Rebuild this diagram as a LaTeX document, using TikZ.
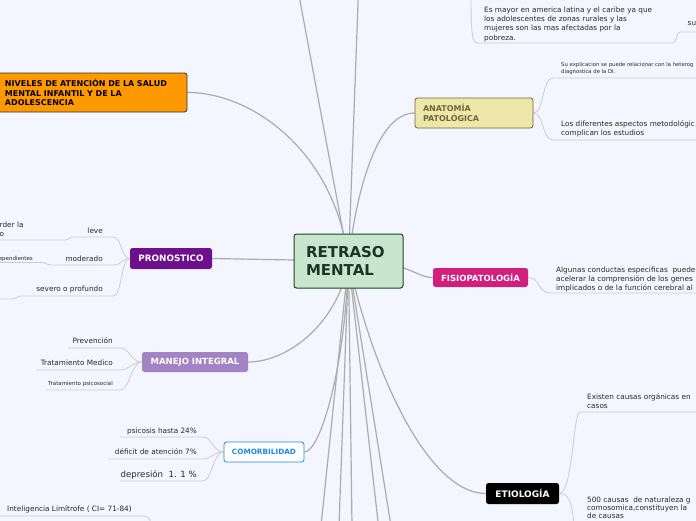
\documentclass[tikz,border=0pt]{standalone}
\usepackage{fontspec}
\setmainfont{DejaVu Sans}
\usetikzlibrary{backgrounds}
\definecolor{bg}{RGB}{243,246,254}
\definecolor{mainline}{RGB}{172,172,172}
\definecolor{leafline}{RGB}{204,204,210}
\definecolor{cfill}{RGB}{200,230,205}
\definecolor{cdraw}{RGB}{40,62,46}
\definecolor{ctext}{RGB}{28,52,34}
\definecolor{orangef}{RGB}{255,153,0}
\definecolor{purplef}{RGB}{110,16,140}
\definecolor{lavf}{RGB}{162,132,196}
\definecolor{blueb}{RGB}{30,136,229}
\definecolor{khakif}{RGB}{238,232,168}
\definecolor{olivet}{RGB}{112,100,60}
\definecolor{magf}{RGB}{210,30,125}
\definecolor{txt}{RGB}{40,40,40}
\tikzset{
 box/.style={rounded corners=2.5pt, inner sep=0pt, font=\bfseries\fontsize{8.5}{10}\selectfont},
 leaf/.style={inner sep=0pt, text=txt, font=\fontsize{7.3}{9.2}\selectfont, align=left},
 tinyleaf/.style={inner sep=0pt, text=txt, font=\fontsize{5.5}{7}\selectfont, align=left},
 conn/.style={draw=mainline, line width=1.2pt},
 lconn/.style={draw=leafline, line width=0.8pt},
}
\begin{document}
\begin{tikzpicture}[x=1pt,y=-1pt]
\useasboundingbox (0,0) rectangle (696,520);

% ---------- main nodes ----------
\node[box, fill=cfill, draw=cdraw, line width=1pt, minimum width=109pt, minimum height=54pt,
      text width=85pt, align=left, text=ctext, font=\bfseries\fontsize{15}{18.5}\selectfont] (c) at (348.5,261) {RETRASO\\MENTAL};
\node[box, fill=orangef, draw=black!80, line width=0.8pt, minimum width=190pt, minimum height=39pt,
      text width=174pt, align=left, font=\bfseries\fontsize{8}{9.6}\selectfont] (niv) at (92,92.5)
      {NIVELES DE ATENCIÓN DE LA SALUD\\MENTAL INFANTIL Y DE LA\\ADOLESCENCIA};
\node[box, fill=purplef, text=white, minimum width=82pt, minimum height=21pt, font=\bfseries\fontsize{8.8}{10}\selectfont] (pron) at (171,258.5) {PRONOSTICO};
\node[box, fill=lavf, text=white, minimum width=106pt, minimum height=20pt] (man) at (195,362) {MANEJO INTEGRAL};
\node[box, fill=white, draw=blueb, line width=0.8pt, text=blueb, minimum width=80pt, minimum height=20pt,
      font=\bfseries\fontsize{7.3}{9}\selectfont] (com) at (264,452) {COMORBILIDAD};
\node[box, fill=khakif, draw=olivet, line width=0.8pt, text=olivet, minimum width=118pt, minimum height=30pt,
      text width=102pt, align=left, font=\bfseries\fontsize{8}{9.8}\selectfont] (anat) at (474,113) {ANATOMÍA\\PATOLÓGICA};
\node[box, fill=magf, text=white, minimum width=95pt, minimum height=19pt] (fis) at (480.5,277.5) {FISIOPATOLOGÍA};
\node[box, fill=black, text=white, minimum width=73pt, minimum height=21pt, font=\bfseries\fontsize{9}{10}\selectfont] (eti) at (522.5,493.5) {ETIOLOGÍA};

% ---------- leaf texts ----------
% pronostico
\node[leaf, anchor=base east] (leve) at (103,233) {leve};
\node[leaf, anchor=base east] (mod) at (103,261.5) {moderado};
\node[leaf, anchor=base east] (sev) at (103,291.5) {severo o profundo};
\node[leaf, anchor=north west] (leveA) at (-0.5,221.5) {rder la\\o};
\node[tinyleaf, anchor=base east] (modA) at (33,260) {ependientes};
% manejo
\node[leaf, anchor=base east] (prev) at (113,343.5) {Prevención};
\node[leaf, anchor=base east] (tmed) at (113,365.5) {Tratamiento Medico};
\node[tinyleaf, anchor=base east] (tpsi) at (113,385) {Tratamiento psicosocial};
% comorbilidad
\node[leaf, anchor=base east] (psi) at (197,433.5) {psicosis hasta 24\%};
\node[leaf, anchor=base east] (def) at (197,454.5) {déficit de atención 7\%};
\node[leaf, anchor=base east, font=\fontsize{8.6}{10}\selectfont] (dep) at (197,477.5) {depresión\ \ 1. 1 \%};
\node[leaf, anchor=base west] (intel) at (7,511.5) {Inteligencia Limítrofe ( CI= 71-84)};
% top right
\node[leaf, anchor=north west, font=\fontsize{7.3}{9.3}\selectfont] (may) at (484,6.5)
  {Es mayor en america latina y el caribe ya que\\los adolescentes de zonas rurales y las\\mujeres son las mas afectadas por la\\pobreza.};
\node[leaf, anchor=base west] (su) at (687.5,25.5) {su};
% anatomia
\node[tinyleaf, anchor=north west, font=\fontsize{5.3}{7}\selectfont] (expl) at (561,62.5) {Su explicacion se puede relacionar con la heterog\\diagnostica de la DI.};
\node[leaf, anchor=north west] (asp) at (561,120.5) {Los diferentes aspectos metodológic\\complican los estudios};
% fisiopatologia
\node[leaf, anchor=north west, font=\fontsize{7.3}{9}\selectfont] (cond) at (556,266.5)
  {Algunas conductas especificas\ \ puede\\acelerar la comprensión de los genes\\implicados o de la función cerebral al};
% etiologia
\node[leaf, anchor=north west] (org) at (587,393) {Existen causas orgánicas en\\casos};
\node[leaf, anchor=north west, font=\fontsize{7.3}{8.2}\selectfont] (qui) at (587,496.5) {500 causas\ \ de naturaleza g\\comosomica,constituyen la\\de causas};

% ---------- coordinates ----------
\coordinate (t1) at (298,-10);
\coordinate (t2) at (358.5,-10);
\coordinate (b1) at (321,526);
\coordinate (b2) at (339,526);
\coordinate (b3) at (352,526);
\coordinate (b4) at (378.5,526);
\coordinate (b5) at (391,526);
\coordinate (leveR) at (113,237); \coordinate (leveL) at (72,237);
\coordinate (leveAR) at (65,240); \coordinate (leveAL) at (-2,240);
\coordinate (modR) at (113,265); \coordinate (modL) at (50,265);
\coordinate (modAR) at (43,262.5); \coordinate (modAL) at (-2,262.5);
\coordinate (sevR) at (113,296); \coordinate (sevL) at (20,296);
\coordinate (sevAR) at (13,299); \coordinate (sevAL) at (-2,299);
\coordinate (prevR) at (120,348); \coordinate (prevL) at (68,348);
\coordinate (tmedR) at (120,370); \coordinate (tmedL) at (36,370);
\coordinate (tpsiR) at (120,390); \coordinate (tpsiL) at (46,390);
\coordinate (psiR) at (203,437); \coordinate (psiL) at (120,437);
\coordinate (defR) at (203,459); \coordinate (defL) at (108,459);
\coordinate (depR) at (203,481); \coordinate (depL) at (120,481);
\coordinate (intR) at (143,516); \coordinate (intL) at (-2,516); \coordinate (intD) at (152,530);
\coordinate (mayT) at (471,-10); \coordinate (mayL) at (478,43); \coordinate (mayR) at (673,43);
\coordinate (suL) at (680,32); \coordinate (suR) at (700,32);
\coordinate (explL) at (553,78); \coordinate (explR) at (700,78);
\coordinate (aspL) at (553,140); \coordinate (aspR) at (700,140);
\coordinate (condL) at (550,293); \coordinate (condR) at (700,293);
\coordinate (orgL) at (580,412); \coordinate (orgR) at (700,412);
\coordinate (quiD) at (574,530);

\begin{pgfonlayer}{background}
\fill[bg] (-5,-5) rectangle (701,525);
% main connectors
\draw[conn] (c.center) .. controls (335,150) and (250,92) .. (niv.east);
\draw[conn] (c.center) -- (pron.east);
\draw[conn] (c.center) .. controls (340,320) and (290,362) .. (man.east);
\draw[conn] (c.center) .. controls (345,370) and (320,452) .. (com.east);
\draw[conn] (c.center) -- (t1);
\draw[conn] (c.center) -- (t2);
\draw[conn] (c.center) -- (b1);
\draw[conn] (c.center) -- (b2);
\draw[conn] (c.center) -- (b3);
\draw[conn] (c.center) -- (b4);
\draw[conn] (c.center) -- (b5);
\draw[conn] (c.center) .. controls (355,200) and (375,113) .. (anat.west);
\draw[conn] (c.center) .. controls (410,261) and (415,277.5) .. (fis.west);
\draw[conn] (c.center) .. controls (375,380) and (430,493.5) .. (eti.west);
% leaf connectors: pronostico
\draw[lconn] (pron.west) .. controls (121,258.5) and (122,237) .. (leveR) -- (leveL) .. controls (69,237) and (69,240) .. (leveAR) -- (leveAL);
\draw[lconn] (pron.west) .. controls (121,258.5) and (122,265) .. (modR) -- (modL) .. controls (47,265) and (46,262.5) .. (modAR) -- (modAL);
\draw[lconn] (pron.west) .. controls (121,258.5) and (122,296) .. (sevR) -- (sevL) .. controls (17,296) and (16,299) .. (sevAR) -- (sevAL);
% manejo
\draw[lconn] (man.west) .. controls (131,362) and (130,348) .. (prevR) -- (prevL);
\draw[lconn] (man.west) .. controls (131,362) and (130,370) .. (tmedR) -- (tmedL);
\draw[lconn] (man.west) .. controls (131,362) and (130,390) .. (tpsiR) -- (tpsiL);
% comorbilidad
\draw[lconn] (com.west) .. controls (213,452) and (212,437) .. (psiR) -- (psiL);
\draw[lconn] (com.west) .. controls (213,452) and (212,459) .. (defR) -- (defL);
\draw[lconn] (com.west) .. controls (213,452) and (212,481) .. (depR) -- (depL);
\draw[lconn] (intL) -- (intR) .. controls (149,516) and (151,520) .. (intD);
% top right
\draw[lconn] (mayT) .. controls (471,35) and (472,43) .. (mayL) -- (mayR) .. controls (677,43) and (676,32) .. (suL) -- (suR);
% anatomia
\draw[lconn] (anat.east) .. controls (544,113) and (542,78) .. (explL) -- (explR);
\draw[lconn] (anat.east) .. controls (544,113) and (542,140) .. (aspL) -- (aspR);
% fisiopatologia
\draw[lconn] (fis.east) .. controls (540,277.5) and (538,293) .. (condL) -- (condR);
% etiologia
\draw[lconn] (eti.east) .. controls (573,493.5) and (573,412) .. (orgL) -- (orgR);
\draw[lconn] (eti.east) .. controls (570,493.5) and (573,505) .. (quiD);
\end{pgfonlayer}
\end{tikzpicture}
\end{document}
